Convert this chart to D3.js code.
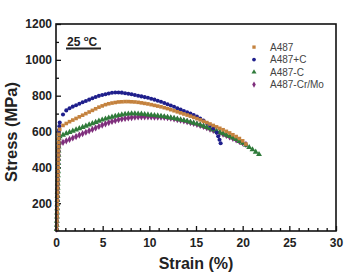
<!DOCTYPE html>
<html><head><meta charset="utf-8">
<script src="https://cdn.jsdelivr.net/npm/d3@7"></script>
<style>body{margin:0;background:#fff}svg{display:block}</style>
</head><body><svg id="c" width="346" height="272"></svg>
<script>
const seriesNames = ["A487", "A487+C", "A487-C", "A487-Cr/Mo"];
const seriesColors = ["#c4823e", "#1f1f8c", "#2f7b3a", "#7f2e7c"];
const xTicks = [0, 5, 10, 15, 20, 25, 30];
const yTicks = [200, 400, 600, 800, 1000, 1200];

// elastic (nearly vertical) part, shared shape
const elasticStrain = [0.08,0.09,0.10,0.11,0.12,0.13,0.14,0.15,0.16,0.17,0.18,0.19,0.20,0.21,0.22,0.23,0.24,0.25,0.26,0.27,0.28,0.29,0.30,0.31];
const elasticStress = [55,78,101,124,147,170,193,216,239,262,285,308,331,354,377,400,423,446,469,492,515,538,561,584];
const elasticCount = [24, 24, 23, 21];

// knee and tail of A487+C
const kneeStrainC = [0.32, 0.36];
const kneeStressC = [608, 630];
const tailStrainC = [17.38, 17.52, 17.64];
const tailStressC = [574, 554, 535];

// plastic part, strain samples (%)
const plasticStrain = [0.4,0.75,1.1,1.45,1.8,2.15,2.5,2.85,3.2,3.55,
  3.9,4.25,4.6,4.95,5.3,5.65,6.0,6.35,6.7,7.05,
  7.4,7.75,8.1,8.45,8.8,9.15,9.5,9.85,10.2,10.55,
  10.9,11.25,11.6,11.95,12.3,12.65,13.0,13.35,13.7,14.05,
  14.4,14.75,15.1,15.45,15.8,16.15,16.5,16.85,17.2,17.55,
  17.9,18.25,18.6,18.95,19.3,19.65,20.0,20.35,20.7,21.05,
  21.4,21.75];

const stressA487 = [612,634,645,655,664,673,682,691,700,709,
  718,727,736,743,750,755,759,762,765,766,
  767,767,766,765,763,760,757,754,750,746,
  742,738,733,728,722,716,710,704,698,692,
  686,679,672,665,657,650,642,634,626,618,
  610,601,592,582,572,561,548,530];
const stressA487C = [650,695,718,730,739,747,755,763,770,778,
  786,793,799,804,808,812,816,818,818,817,
  814,811,808,804,800,796,792,788,783,778,
  772,766,759,752,745,738,730,723,715,708,
  700,692,683,672,661,648,634,617,594];
const stressA487minusC = [572,581,589,596,603,610,617,624,631,638,
  645,652,659,665,671,676,681,686,690,694,
  697,699,700,700,699,698,696,694,692,690,
  688,686,683,680,677,674,670,666,662,658,
  653,648,643,637,631,624,617,610,603,596,
  589,581,573,565,556,546,536,524,512,499,
  486,473];
const stressCrMo = [532,540,548,556,564,572,580,588,596,604,
  612,620,628,636,643,650,656,661,666,670,
  673,676,678,680,681,682,682,682,681,680,
  680,680,679,677,674,671,667,663,659,655,
  650,645,640,634,628,621,614,607,600,593,
  586,578,570,562,554,545,537,528];

const plasticStress = [stressA487, stressA487C, stressA487minusC, stressCrMo];
const symbols = [d3.symbolSquare, d3.symbolCircle, d3.symbolTriangle, d3.symbolDiamond];
const symSizes = [13, 13, 15, 15];

const m = {l: 56, r: 336, t: 24, b: 231};
const x = d3.scaleLinear().domain([0, 30]).range([m.l, m.r]);
const y = d3.scaleLinear().domain([45, 1200]).range([m.b, m.t]);
const svg = d3.select("#c");
const font = "Arial, 'Liberation Sans', Helvetica, sans-serif";

// build series points
const series = seriesNames.map((name, i) => {
  const pts = [];
  for (let k = 0; k < elasticCount[i]; k++) pts.push([elasticStrain[k], elasticStress[k]]);
  if (i === 1) kneeStrainC.forEach((s, k) => pts.push([s, kneeStressC[k]]));
  plasticStress[i].forEach((v, k) => pts.push([plasticStrain[k], v]));
  if (i === 1) tailStrainC.forEach((s, k) => pts.push([s, tailStressC[k]]));
  return {name, i, pts};
});

// axes
const xMajor = d3.axisBottom(x).tickValues(xTicks).tickSize(-5).tickPadding(7).tickFormat(d3.format("d"));
const xMinor = d3.axisBottom(x).tickValues(d3.range(0, 31, 1).filter(v => v % 5)).tickSize(-3).tickFormat("");
const yMajor = d3.axisLeft(y).tickValues(yTicks).tickSize(-5).tickPadding(4).tickFormat(d3.format("d"));
const yMinor = d3.axisLeft(y).tickValues([100,300,500,700,900,1100]).tickSize(-3).tickFormat("");

function styleAxis(g) {
  g.select(".domain").remove();
  g.selectAll(".tick line").attr("stroke", "#111").attr("stroke-width", 1.3);
  g.selectAll("text").attr("font-family", font).attr("font-size", 12).attr("font-weight", "bold").attr("fill", "#222");
}
svg.append("g").attr("transform", `translate(0,${m.b})`).call(xMinor).call(styleAxis);
svg.append("g").attr("transform", `translate(0,${m.b})`).call(xMajor).call(styleAxis);
svg.append("g").attr("transform", `translate(${m.l},0)`).call(yMinor).call(styleAxis);
svg.append("g").attr("transform", `translate(${m.l},0)`).call(yMajor).call(styleAxis);

// data markers (draw order)
const order = [3, 2, 1, 0];
order.forEach(i => {
  const s = series[i];
  svg.append("g").selectAll("path").data(s.pts).join("path")
    .attr("transform", d => `translate(${x(d[0])},${y(d[1])})`)
    .attr("d", d3.symbol().type(symbols[i]).size(symSizes[i]))
    .attr("fill", seriesColors[i]);
});

// frame
svg.append("rect").attr("x", m.l).attr("y", m.t).attr("width", m.r - m.l).attr("height", m.b - m.t)
  .attr("fill", "none").attr("stroke", "#111").attr("stroke-width", 1.6);

// axis titles
svg.append("text").attr("x", 196).attr("y", 269).attr("text-anchor", "middle")
  .attr("font-family", font).attr("font-size", 16).attr("font-weight", "bold").attr("fill", "#222")
  .text("Strain (%)");
svg.append("text").attr("transform", "translate(17,132) rotate(-90)").attr("text-anchor", "middle")
  .attr("font-family", font).attr("font-size", 16.5).attr("font-weight", "bold").attr("fill", "#222")
  .text("Stress (MPa)");

// temperature label
const tl = svg.append("text").attr("x", 67).attr("y", 45.5)
  .attr("font-family", font).attr("font-size", 12).attr("font-weight", "bold").attr("fill", "#222");
tl.append("tspan").text("25 ");
tl.append("tspan").attr("font-size", 8).attr("dy", -5).text("o");
tl.append("tspan").attr("dy", 5).text("C");
svg.append("line").attr("x1", 66).attr("x2", 101).attr("y1", 48.5).attr("y2", 48.5)
  .attr("stroke", "#222").attr("stroke-width", 2);

// legend
const lg = svg.append("g");
seriesNames.forEach((name, i) => {
  const by = 50.7 + i * 12.5;
  lg.append("path").attr("transform", `translate(254,${by - 3.6})`)
    .attr("d", d3.symbol().type(symbols[i]).size(11)).attr("fill", seriesColors[i]);
  lg.append("text").attr("x", 270).attr("y", by).attr("font-family", font).attr("font-size", 10)
    .attr("fill", "#444").text(name);
});
</script>
</body></html>
